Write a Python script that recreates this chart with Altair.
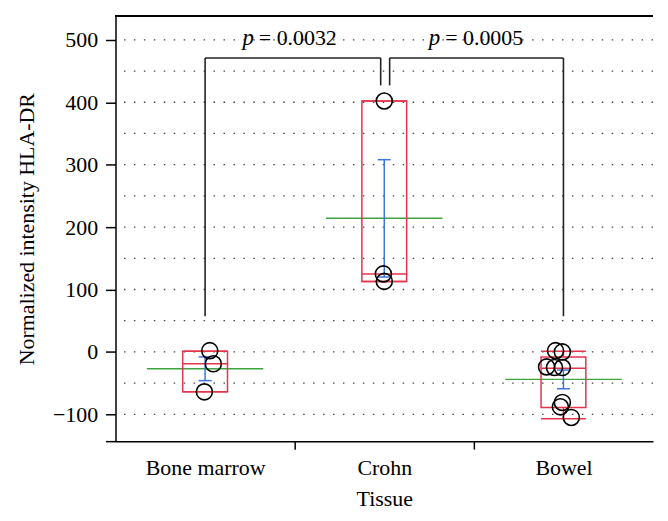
import altair as alt
import pandas as pd

# ---- data ----
categories = ["Bone marrow", "Crohn", "Bowel"]
cat_pos = [1, 2, 3]

point_group = ["Bone marrow"] * 3 + ["Crohn"] * 3 + ["Bowel"] * 8
point_value = [2, -19, -64, 402, 125, 113, 2, 0, -24, -25, -25, -81, -88, -105]
point_jitter = [0.026, 0.046, -0.004, 0.0, -0.005, 0.0,
                -0.044, -0.006, -0.094, -0.05, -0.006, -0.006, -0.017, 0.044]

box_q1 = [-64, 113, -89]
box_median = [-19, 125, -26]
box_q3 = [1, 402, -8]
whisker_lo = [-64, 113, -107]
whisker_hi = [1, 402, 1]
group_mean = [-27, 214, -44]
group_sem = [19, 94, 15]

p_labels = ["= 0.0032", "= 0.0005"]
p_label_x = [1.30, 2.34]
p_label_y = [491, 491]

# bracket segments (x, x2, y, y2)
br_x = [1, 1, 1.98, 2.03, 2.03, 3]
br_x2 = [1, 1.98, 1.98, 2.03, 3, 3]
br_y = [57, 471, 471, 427, 471, 471]
br_y2 = [471, 471, 427, 471, 471, 57]

grid_values = [-100, -50, 0, 50, 100, 150, 200, 250, 300, 350, 400, 450, 500]
y_tick_values = [-143, -100, 0, 100, 200, 300, 400, 500]

# ---- tables ----
pos_of = dict(zip(categories, cat_pos))
pts = pd.DataFrame({"group": point_group, "value": point_value, "jit": point_jitter})
pts["x"] = [pos_of[g] + j for g, j in zip(pts["group"], pts["jit"])]

st = pd.DataFrame({
    "group": categories, "pos": cat_pos, "q1": box_q1, "med": box_median,
    "q3": box_q3, "wlo": whisker_lo, "whi": whisker_hi,
    "mean": group_mean, "sem": group_sem,
})
st["bl"] = st["pos"] - 0.125
st["br"] = st["pos"] + 0.125
st["ml"] = st["pos"] - 0.325
st["mr"] = st["pos"] + 0.325
st["cl"] = st["pos"] - 0.036
st["cr"] = st["pos"] + 0.036
st["slo"] = st["mean"] - st["sem"]
st["shi"] = st["mean"] + st["sem"]

brk = pd.DataFrame({"x": br_x, "x2": br_x2, "y": br_y, "y2": br_y2})
ptxt = pd.DataFrame({"x": p_label_x, "y": p_label_y, "t": p_labels})
grid = pd.DataFrame({"g": grid_values})

FONT = "Liberation Serif"
RED = "#e6344c"
GREEN = "#3ea43e"
BLUE = "#3f74e0"

label_expr = "".join(
    f"datum.value == {p} ? '{c}' : " for c, p in zip(categories, cat_pos)
) + "''"

xscale = alt.Scale(domain=[0.5, 3.5], nice=False, zero=False)
yscale = alt.Scale(domain=[-143, 538], nice=False, zero=False)

xaxis = alt.Axis(
    values=[1, 1.5, 2, 2.5, 3], labelExpr=label_expr,
    tickOpacity={"condition": {"test": "datum.value % 1 === 0", "value": 0}, "value": 1},
    tickSize=8, tickWidth=1.5, tickColor="black", domainColor="black", domainWidth=1.5,
    grid=False, title="Tissue", labelFont=FONT, titleFont=FONT, labelFontSize=22,
    titleFontSize=22, titleFontWeight="normal", labelColor="black", titleColor="black",
    labelPadding=8, titlePadding=11, labelFlush=False, labelOverlap=False,
)
yaxis = alt.Axis(
    values=y_tick_values, labelExpr="datum.value < -120 ? '' : datum.label",
    tickSize=10, tickWidth=1.5, tickColor="black", domainColor="black", domainWidth=1.5,
    grid=False, title="Normalized intensity HLA-DR", labelFont=FONT, titleFont=FONT,
    labelFontSize=22, titleFontSize=22, titleFontWeight="normal", labelColor="black",
    titleColor="black", labelPadding=8, titlePadding=14, labelFlush=False,
)


def X(f):
    return alt.X(f, type="quantitative", scale=xscale, axis=xaxis)


def Y(f):
    return alt.Y(f, type="quantitative", scale=yscale, axis=yaxis)


grid_layer = alt.Chart(grid).mark_rule(
    color="#444", strokeDash=[1.5, 8.5], strokeWidth=1.3
).encode(y=Y("g"))

top_line = alt.Chart(grid).mark_rule(color="black", strokeWidth=1.5).encode(
    y=alt.value(0)
)

base = alt.Chart(st)
mean_layer = base.mark_rule(color=GREEN, strokeWidth=1.5).encode(
    x=X("ml"), x2="mr", y=Y("mean"))
box_layer = base.mark_rect(fillOpacity=0, stroke=RED, strokeWidth=1.5).encode(
    x=X("bl"), x2="br", y=Y("q1"), y2="q3")
med_layer = base.mark_rule(color=RED, strokeWidth=1.5).encode(
    x=X("bl"), x2="br", y=Y("med"))
whi_cap = base.mark_rule(color=RED, strokeWidth=1.5).encode(
    x=X("bl"), x2="br", y=Y("whi"))
wlo_cap = base.mark_rule(color=RED, strokeWidth=1.5).encode(
    x=X("bl"), x2="br", y=Y("wlo"))
whi_stem = base.mark_rule(color=RED, strokeWidth=1.5).encode(
    x=X("pos"), y=Y("q3"), y2="whi")
wlo_stem = base.mark_rule(color=RED, strokeWidth=1.5).encode(
    x=X("pos"), y=Y("wlo"), y2="q1")
sem_stem = base.mark_rule(color=BLUE, strokeWidth=1.5).encode(
    x=X("pos"), y=Y("slo"), y2="shi")
sem_hi = base.mark_rule(color=BLUE, strokeWidth=1.5).encode(
    x=X("cl"), x2="cr", y=Y("shi"))
sem_lo = base.mark_rule(color=BLUE, strokeWidth=1.5).encode(
    x=X("cl"), x2="cr", y=Y("slo"))

points = alt.Chart(pts).mark_point(
    shape="circle", filled=False, stroke="black", strokeWidth=1.6, size=260, opacity=1
).encode(x=X("x"), y=Y("value"))

brackets = alt.Chart(brk).mark_rule(color="#222", strokeWidth=1.6).encode(
    x=X("x"), x2="x2", y=Y("y"), y2="y2")

p_italic = alt.Chart(ptxt).mark_text(
    text="p", font=FONT, fontSize=23, fontStyle="italic", align="right",
    baseline="alphabetic", dx=-5, color="black"
).encode(x=X("x"), y=Y("y"))
p_rest = alt.Chart(ptxt).mark_text(
    font=FONT, fontSize=22, align="left", baseline="alphabetic", color="black"
).encode(x=X("x"), y=Y("y"), text="t:N")

chart = alt.layer(
    grid_layer, top_line, mean_layer, box_layer, med_layer, whi_cap, wlo_cap,
    whi_stem, wlo_stem, sem_stem, sem_hi, sem_lo, points, brackets, p_italic, p_rest
).properties(
    width=540, height=427,
    padding={"left": 7, "top": 6, "right": 6, "bottom": 0},
).configure_view(stroke=None)

chart.save("out.html", embed_options={"renderer": "svg", "actions": False})
